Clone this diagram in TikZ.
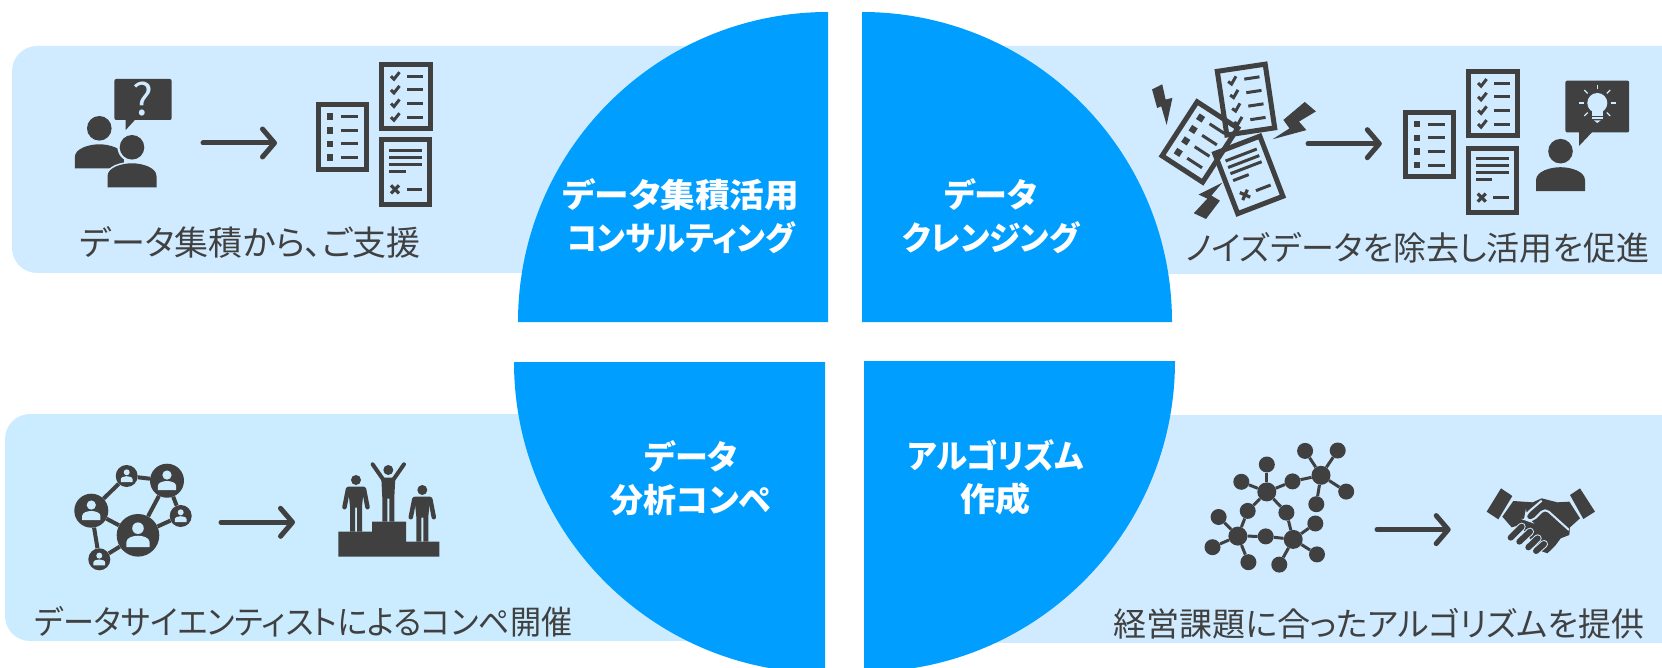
\documentclass[tikz,border=0pt]{standalone}
\usepackage{fontspec}
\setmainfont[RawFeature={+palt}]{Noto Sans CJK JP}
\usetikzlibrary{arrows.meta}
\definecolor{dark}{HTML}{404040}
\definecolor{bandA}{HTML}{D0EBFF}
\definecolor{bandB}{HTML}{CBECFF}
\definecolor{pieblue}{HTML}{009FFF}
\newcommand{\hfit}[2]{\scalebox{#1}[1]{#2}}
\tikzset{
  docframe/.style={draw=dark,line width=5pt},
  docline/.style={draw=dark,line width=3pt},
  flow/.style={draw=dark,line width=5pt,line cap=round,-{Straight Barb[length=12pt,width=28pt,round]}},
  pielabel/.style={text=white,font=\fontsize{33}{43}\selectfont\bfseries,align=center,inner sep=0pt},
  caption/.style={text=dark,inner sep=0pt},
  netedge/.style={draw=dark,line width=4pt},
  molhub/.style={circle,fill=dark,inner sep=0pt,minimum size=19pt},
  molleaf/.style={circle,fill=dark,inner sep=0pt,minimum size=16pt},
  moledge/.style={draw=dark,line width=3pt},
  pics/listdoc/.style={code={
    \draw[docframe] (-24.2,-32.2) rectangle (24.2,32.2);
    \foreach \yy in {-20.5,-6.8,6.8,20.5}{
      \fill[dark] (-15.8,\yy-3.3) rectangle (-9.2,\yy+3.3);
      \draw[docline] (-1.8,\yy) -- (15.8,\yy);}
  }},
  pics/checkdoc/.style={code={
    \draw[docframe] (-24.2,-32.2) rectangle (24.2,32.2);
    \foreach \yy in {-20.5,-6.8,6.8,20.5}{
      \draw[docline] (-15,\yy) -- (-12,\yy+3) -- (-6.5,\yy-4);
      \draw[docline] (1.3,\yy) -- (16.7,\yy);}
  }},
  pics/textdoc/.style={code={
    \draw[docframe] (-24.2,-32.2) rectangle (24.2,32.2);
    \foreach \yy in {-21.3,-14.3,-7.7}{\draw[docline] (-16.7,\yy) -- (16.7,\yy);}
    \draw[docline] (-16.7,-0.3) -- (0,-0.3);
    \draw[dark,line width=3.2pt] (-14.7,13.3) -- (-6.7,21.3) (-14.7,21.3) -- (-6.7,13.3);
    \draw[docline] (1,17.3) -- (16.7,17.3);
  }},
  pics/person/.style={code={
    \fill[#1] (0,-40) circle[radius=12.3];
    \fill[#1] (-24.5,0) -- (-24.5,-11) .. controls (-24.5,-20) and (-10,-24) .. (0,-24)
      .. controls (10,-24) and (24.5,-20) .. (24.5,-11) -- (24.5,0) -- cycle;
  }},
  pics/standfig/.style={code={
    \fill[dark] (0,-51.7) circle[radius=5];
    \fill[dark] (-8,-45) -- (8,-45) -- (6,-25) -- (6,0) -- (1,0) -- (1,-24) -- (-1,-24) -- (-1,0) -- (-6,0) -- (-6,-25) -- cycle;
    \draw[dark,line width=4.5pt,line cap=round] (-8,-42.5) -- (-11.5,-24.5) (8,-42.5) -- (11.5,-24.5);
  }},
  pics/cheerfig/.style={code={
    \fill[dark] (0,-51.7) circle[radius=5];
    \fill[dark] (-7,-44) -- (7,-44) -- (6,-24) -- (6,0) -- (1,0) -- (1,-23) -- (-1,-23) -- (-1,0) -- (-6,0) -- (-6,-24) -- cycle;
    \draw[dark,line width=4pt,line cap=round] (-5,-42) -- (-15.7,-57.4) (5,-42) -- (15.7,-57.4);
  }},
}
\begin{document}
\begin{tikzpicture}[x=1pt,y=-1pt]
\useasboundingbox (0,0) rectangle (1662,668);
% bands
\fill[bandA,rounded corners=25pt] (12,46) rectangle (720,273);
\fill[bandA,rounded corners=5pt] (960,46) rectangle (1690,274);
\fill[bandB,rounded corners=25pt] (5,414) rectangle (720,641);
\fill[bandA] (960,415) rectangle (1662,643);
% quarter discs
\fill[pieblue] (828,322) -- (518,322) arc[start angle=180,end angle=270,radius=310] -- cycle;
\fill[pieblue] (862,322) -- (862,12) arc[start angle=270,end angle=360,radius=310] -- cycle;
\fill[pieblue] (825,362) -- (514,362) arc[start angle=180,end angle=90,radius=311] -- cycle;
\fill[pieblue] (864,361) -- (1175,361) arc[start angle=0,end angle=90,radius=311] -- cycle;
% disc labels
\node[pielabel] (lab1) at (681,216) {\hfit{1.05}{データ集積活用}\\\hfit{.94}{コンサルティング}};
\node[pielabel] (lab2) at (991,216) {データ\\\hfit{.96}{クレンジング}};
\node[pielabel] (lab3) at (691,478) {データ\\分析コンペ};
\node[pielabel] (lab4) at (995.5,477) {\hfit{.95}{アルゴリズム}\\\hfit{1.06}{作成}};
% captions
\node[caption,font=\fontsize{34}{36}\selectfont] (cap1) at (250,242) {データ集積から、ご支援};
\node[caption,font=\fontsize{33}{36}\selectfont] (cap2) at (1417.6,248) {ノイズデータを除去し活用を促進};
\node[caption,font=\fontsize{33}{36}\selectfont] (cap3) at (303.5,622) {\hfit{.942}{データサイエンティストによるコンペ開催}};
\node[caption,font=\fontsize{33}{36}\selectfont] (cap4) at (1379,624) {経営課題に合ったアルゴリズムを提供};
% top-left icons
\pic at (99.3,168.3) {person=dark};
\fill[bandA] (132,147.3) circle[radius=14.5];
\draw[bandA,line width=3pt,fill=dark] (107.5,187.3) -- (107.5,176) .. controls (107.5,167) and (122,163.3) .. (132,163.3) .. controls (142,163.3) and (156.5,167) .. (156.5,176) -- (156.5,187.3) -- cycle;
\pic at (132,187.3) {person=dark};
\fill[dark,rounded corners=2pt] (114.3,79) rectangle (171.7,120);
\fill[dark] (125.7,118) -- (125.7,130) -- (136.7,118) -- cycle;
\node[text=bandA,inner sep=0pt,font=\fontsize{44}{44}\selectfont] (qmark) at (143,99.3) {?};
\coordinate (a1s) at (203,143); \coordinate (a1e) at (277,143);
\draw[flow] (a1s) -- (a1e);
\pic at (342.5,137.2) {listdoc};
\pic at (406,96.7) {checkdoc};
\pic at (405.7,172) {textdoc};
% top-right icons
\pic[rotate=-33] at (1199.9,142) {listdoc};
\pic[rotate=8.5] at (1246,99.6) {checkdoc};
\pic[rotate=21] at (1248.8,174.9) {textdoc};
\begin{scope}[shift={(1130,30)},x=.3393pt,y=-.3393pt]
\fill[dark] (65,175) -- (95,160) -- (105,205) -- (125,200) -- (108,280) -- (92,225) -- (80,230) -- cycle;
\fill[dark] (515,212) -- (548,240) -- (498,270) -- (520,295) -- (420,322) -- (470,290) -- (452,265) -- cycle;
\fill[dark] (272,450) -- (202,485) -- (228,497) -- (188,540) -- (224,557) -- (265,503) -- (240,488) -- cycle;
\end{scope}
\coordinate (a2s) at (1308,143.7); \coordinate (a2e) at (1381.8,143.7);
\draw[flow] (a2s) -- (a2e);
\pic at (1429.3,144.7) {listdoc};
\pic at (1493.1,103.6) {checkdoc};
\pic at (1492.4,180.3) {textdoc};
\fill[dark,rounded corners=2pt] (1565.4,80.6) rectangle (1629.2,132.5);
\fill[dark] (1579,131) -- (1579,146) -- (1593.2,131) -- cycle;
\fill[bandA] (1597.3,103) circle[radius=10];
\fill[bandA] (1592,110) rectangle (1602.6,116);
\fill[bandA] (1592,117.5) rectangle (1602.6,119.5);
\fill[bandA] (1594,120.5) -- (1600.6,120.5) -- (1597.3,123) -- cycle;
\foreach \ang in {0,45,135,180,225,270,315}{
  \draw[bandA,line width=1.3pt] (1597.3,103) ++(\ang:13.5) -- ++(\ang:4.8);}
\pic at (1560.5,191.2) {person=dark};
% bottom-left icons
\node[circle,fill=dark,inner sep=0pt,minimum size=34pt] (na) at (91.3,510.7) {};
\node[circle,fill=dark,inner sep=0pt,minimum size=22pt] (nb) at (126.7,476) {};
\node[circle,fill=dark,inner sep=0pt,minimum size=34pt] (nc) at (167,480.7) {};
\node[circle,fill=dark,inner sep=0pt,minimum size=42.6pt] (nd) at (138,535.3) {};
\node[circle,fill=dark,inner sep=0pt,minimum size=22pt] (ne) at (180.7,516) {};
\node[circle,fill=dark,inner sep=0pt,minimum size=22pt] (nf) at (99.3,559.3) {};
\foreach \aa/\bb in {na/nb,nb/nc,nc/nd,nc/ne,na/nd,nd/ne,na/nf,nf/nd}{\draw[netedge] (\aa) -- (\bb);}
\pic[scale=.374] at (91.3,520) {person=bandB};
\pic[scale=.242] at (126.7,482) {person=bandB};
\pic[scale=.374] at (167,490) {person=bandB};
\pic[scale=.47] at (138,547) {person=bandB};
\pic[scale=.242] at (180.7,522) {person=bandB};
\pic[scale=.242] at (99.3,565.3) {person=bandB};
\coordinate (a3s) at (221,522.3); \coordinate (a3e) at (295,522.3);
\draw[flow] (a3s) -- (a3e);
\fill[dark] (338.3,556.7) -- (338.3,531.7) -- (372,531.7) -- (372,521.7) -- (406,521.7) -- (406,541.7) -- (439.3,541.7) -- (439.3,556.7) -- cycle;
\pic at (356,531.7) {standfig};
\pic at (388.3,521.7) {cheerfig};
\pic at (422.3,541.7) {standfig};
% bottom-right icons
\node[molhub] (h1) at (1266.8,491.9) {};
\node[molhub] (h2) at (1321,475.3) {};
\node[molhub] (h3) at (1237.9,536.1) {};
\node[molhub] (h4) at (1293.2,539.4) {};
\node[molleaf] (m1) at (1266.8,464.5) {};
\node[molleaf] (m2) at (1241.3,481.8) {};
\node[molleaf] (m3) at (1292.5,481.4) {};
\node[molleaf] (m4) at (1247.7,510.9) {};
\node[molleaf] (m5) at (1286.4,512.6) {};
\node[molleaf] (m6) at (1305.1,450.9) {};
\node[molleaf] (m7) at (1337.7,450.5) {};
\node[molleaf] (m8) at (1346.2,491.6) {};
\node[molleaf] (m9) at (1316.3,504.2) {};
\node[molleaf] (m10) at (1218.6,517) {};
\node[molleaf] (m11) at (1212.5,547.2) {};
\node[molleaf] (m12) at (1248.4,562.2) {};
\node[molleaf] (m13) at (1265.7,536.4) {};
\node[molleaf] (m14) at (1315.3,523.5) {};
\node[molleaf] (m15) at (1317,554.4) {};
\node[molleaf] (m16) at (1279.3,564.6) {};
\foreach \aa/\bb in {h1/m1,h1/m2,h1/m3,h1/m4,h1/m5,h2/m3,h2/m6,h2/m7,h2/m8,h2/m9,h3/m4,h3/m10,h3/m11,h3/m12,h3/m13,h4/m5,h4/m13,h4/m14,h4/m15,h4/m16}{\draw[moledge] (\aa) -- (\bb);}
\coordinate (a4s) at (1377,529.6); \coordinate (a4e) at (1450.7,529.6);
\draw[flow] (a4s) -- (a4e);
\begin{scope}[shift={(1470,470)},x=.3333pt,y=-.3333pt]
\fill[dark] (93,55) -- (127,78) -- (85,148) -- (50,125) -- cycle;
\fill[dark] (330,55) -- (300,75) -- (340,147) -- (375,125) -- cycle;
\fill[dark] (130,93) -- (188,97) -- (215,85) -- (262,97) -- (298,95) -- (330,145) -- (300,172) -- (298,195) -- (272,205) -- (255,228) -- (232,250) -- (205,240) -- (150,165) -- (125,172) -- (97,140) -- cycle;
\foreach \xa/\ya/\xb/\yb in {155/170/122/203,180/185/148/215,203/205/175/232,222/222/198/243}{
  \draw[bandA,line width=8pt,line cap=round] (\xa,\ya) -- (\xb,\yb);}
\foreach \xa/\ya/\xb/\yb in {155/170/122/203,180/185/148/215,203/205/175/232,222/222/198/243}{
  \draw[dark,line width=6pt,line cap=round] (\xa,\ya) -- (\xb,\yb);}
\draw[bandA,line width=2pt,rounded corners=5pt] (215,92) -- (168,132) -- (165,148) -- (185,155) -- (225,115) -- (297,180);
\end{scope}
\end{tikzpicture}
\end{document}
